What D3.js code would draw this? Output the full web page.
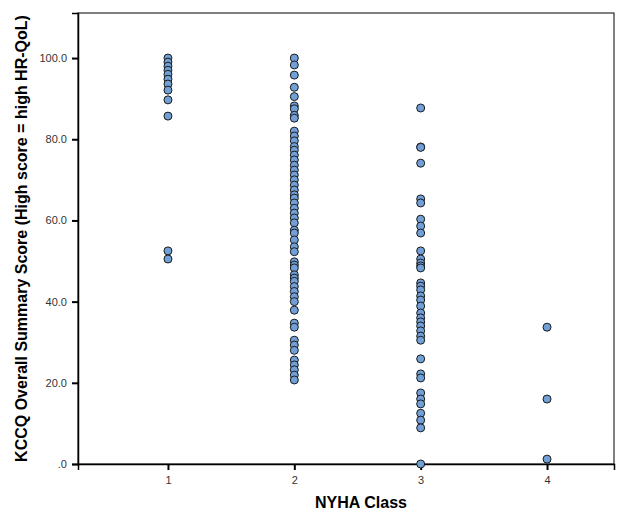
<!DOCTYPE html>
<html>
<head>
<meta charset="utf-8">
<script src="https://cdn.jsdelivr.net/npm/d3@7/dist/d3.min.js"></script>
<style>
  body { margin: 0; background: #fff; }
  svg { display: block; font-family: Arial, "Liberation Sans", sans-serif; }
  .tick text { font-size: 11px; fill: #333; }
</style>
</head>
<body>
<svg width="627" height="515"></svg>
<script>
// NYHA class categories
var classes = [1, 2, 3, 4];

// KCCQ scores, one list per class
var class1 = [100, 99, 98, 97, 96, 94.8, 93.6, 92.1, 89.7, 85.7, 52.5, 50.5];
var class2 = [100, 98.3, 95.8, 92.8, 90.5, 88.2, 87.5, 85.9, 85.2, 82, 80.8, 79.6, 78.2,
  77.3, 76.1, 74.9, 73.6, 72.4, 71.2, 70, 68.7, 67.5, 66.3, 65.5, 64.3, 63, 61.8, 60.6,
  59.4, 57.6, 56.9, 55.2, 53.5, 52.3, 49.8, 49, 48.3, 46.6, 45.8, 45, 43.7, 42.5, 41.2,
  40, 37.9, 34.7, 33.7, 30.5, 29.3, 28, 25.6, 24.4, 23.2, 21.9, 20.7];
var class3 = [87.7, 78.1, 78, 74.1, 65.3, 64.3, 60.3, 58.6, 56.9, 52.5, 50.5, 49.5, 48.8,
  48.3, 44.6, 43.8, 42.9, 41.4, 40.4, 38.9, 37.2, 36, 35, 34, 32.8, 31.5, 30.5, 25.9,
  22.2, 21.2, 17.5, 16, 14.8, 12.5, 10.8, 8.9, 0];
var class4 = [33.7, 16, 1.2];

var yTicks = [0, 20, 40, 60, 80, 100];

var width = 627;
var height = 515;
var margin = {left: 78, right: 13, top: 13, bottom: 51};

var points = [];
[class1, class2, class3, class4].forEach(function (list, i) {
  list.forEach(function (v) { points.push({nyha: classes[i], score: v}); });
});

var x = d3.scaleLinear().domain([0.288, 4.53]).range([margin.left, width - margin.right]);
var y = d3.scaleLinear().domain([0, 111.1]).range([height - margin.bottom, margin.top]);

var svg = d3.select('svg');

// frame
svg.append('rect')
  .attr('x', margin.left)
  .attr('y', margin.top)
  .attr('width', width - margin.right - margin.left)
  .attr('height', height - margin.bottom - margin.top)
  .attr('fill', 'none')
  .attr('stroke', '#000')
  .attr('stroke-width', 1);

var axisBottom = d3.axisBottom(x).tickValues(classes).tickSize(6).tickPadding(6)
  .tickFormat(d3.format('d'));
var axisLeft = d3.axisLeft(y).tickValues(yTicks).tickSize(6).tickPadding(5)
  .tickFormat(function (d) { return d === 0 ? '.0' : d3.format('.1f')(d); });

var gx = svg.append('g')
  .attr('transform', 'translate(0,' + (height - margin.bottom) + ')')
  .call(axisBottom);
var gy = svg.append('g')
  .attr('transform', 'translate(' + margin.left + ',0)')
  .call(axisLeft);

[gx, gy].forEach(function (g) {
  g.select('.domain').attr('stroke', '#000').attr('stroke-width', 1.5);
  g.selectAll('.tick line').attr('stroke', '#000').attr('stroke-width', 2);
});

svg.selectAll('circle.pt')
  .data(points)
  .enter()
  .append('circle')
  .attr('class', 'pt')
  .attr('cx', function (d) { return x(d.nyha); })
  .attr('cy', function (d) { return y(d.score); })
  .attr('r', 4)
  .attr('fill', '#71a0d6')
  .attr('stroke', '#1a1a1a')
  .attr('stroke-width', 1);

// axis titles
svg.append('text')
  .attr('x', 361)
  .attr('y', 508)
  .style('text-anchor', 'middle')
  .style('font-weight', 'bold')
  .style('font-size', '16px')
  .text('NYHA Class');

svg.append('text')
  .attr('transform', 'rotate(-90)')
  .attr('x', -(margin.top + height - margin.bottom) / 2)
  .attr('y', 27)
  .style('text-anchor', 'middle')
  .style('font-weight', 'bold')
  .style('font-size', '16px')
  .text('KCCQ Overall Summary Score (High score = high HR-QoL)');
</script>
</body>
</html>
